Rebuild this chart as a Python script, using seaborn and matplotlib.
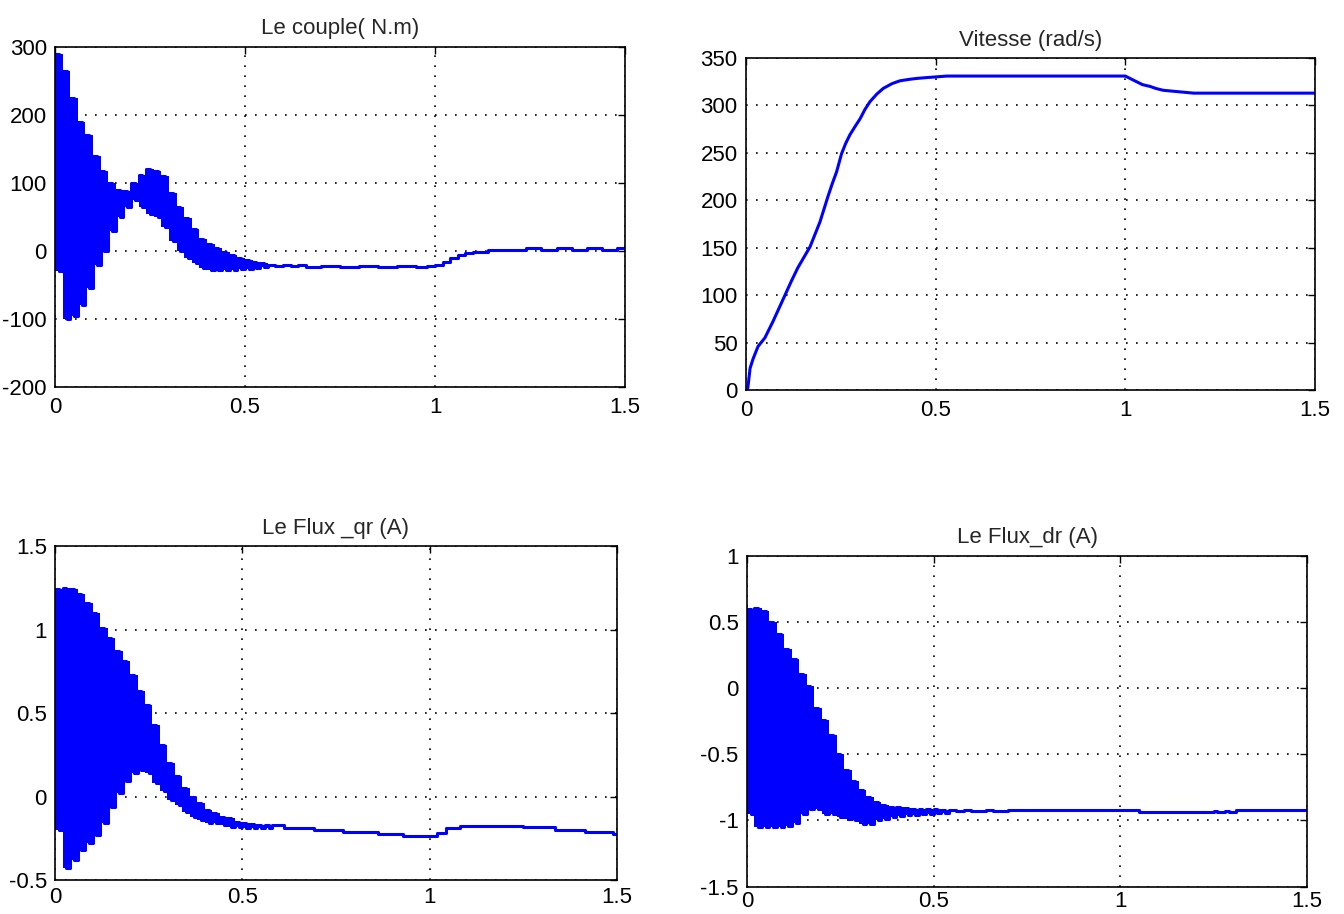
import numpy as np
import pandas as pd
import matplotlib
matplotlib.use("Agg")
import matplotlib.pyplot as plt
import seaborn as sns

# ---------------- data ----------------
PERIOD = 0.02  # one oscillation cycle of the transient (s)

# Torque (N.m): per-cycle maxima / minima of the start-up transient
couple_hi = [290, 265, 225, 190, 170, 140, 118, 100, 90, 88, 100, 112, 120, 118,
             110, 85, 65, 48, 32, 18, 10, 4, -2, -6, -10, -13, -16, -18]
couple_lo = [-30, -100, -95, -80, -55, -20, 0, 30, 50, 65, 75, 65, 55, 50,
             35, 15, 0, -10, -18, -25, -28, -28, -28, -28, -27, -27, -25, -24]
couple_tail_t = [0.56, 0.58, 0.60, 0.62, 0.64, 0.66, 0.70, 0.75, 0.80, 0.85, 0.90,
                 0.95, 0.98, 1.00, 1.02, 1.04, 1.06, 1.08, 1.10, 1.14, 1.20, 1.24,
                 1.28, 1.32, 1.36, 1.40, 1.44, 1.48, 1.50]
couple_tail_v = [-20, -22, -20, -22, -21, -23, -22, -23, -22, -24, -22,
                 -24, -22, -20, -16, -10, -6, -3, -1, 1, 2, 4,
                 2, 4, 2, 4, 2, 4, 3]

# Speed (rad/s)
vitesse_t = [0, 0.005, 0.011, 0.019, 0.032, 0.05, 0.071, 0.087, 0.103, 0.12, 0.137,
             0.153, 0.169, 0.182, 0.195, 0.206, 0.217, 0.228, 0.239, 0.252, 0.263,
             0.274, 0.288, 0.301, 0.314, 0.327, 0.345, 0.362, 0.385, 0.406, 0.43,
             0.45, 0.48, 0.53, 1.0, 1.02, 1.045, 1.066, 1.08, 1.1, 1.18, 1.5]
vitesse_v = [0, 2, 23, 33, 46, 55, 72, 86, 100, 115, 129,
             140, 151, 164, 177, 191, 205, 218, 230, 249, 260,
             269, 278, 286, 296, 304, 312, 318, 323, 326, 327.5,
             328.5, 329.5, 331, 331, 327, 322, 320, 318, 316, 313, 313]

# Rotor flux q-axis
fluxqr_hi = [1.24, 1.25, 1.24, 1.21, 1.16, 1.10, 1.01, 0.95, 0.87, 0.81, 0.73, 0.63,
             0.55, 0.43, 0.31, 0.20, 0.12, 0.05, 0.00, -0.04, -0.08, -0.10, -0.12,
             -0.13, -0.15, -0.16, -0.165, -0.17, -0.17]
fluxqr_lo = [-0.20, -0.43, -0.38, -0.32, -0.28, -0.23, -0.16, -0.06, 0.02, 0.09, 0.14,
             0.16, 0.14, 0.08, 0.03, -0.02, -0.05, -0.09, -0.12, -0.14, -0.16, -0.16,
             -0.17, -0.18, -0.18, -0.19, -0.19, -0.19, -0.19]
fluxqr_tail_t = [0.58, 0.61, 0.69, 0.77, 0.863, 0.93, 1.0, 1.02, 1.045, 1.081,
                 1.25, 1.335, 1.415, 1.49, 1.5]
fluxqr_tail_v = [-0.17, -0.19, -0.20, -0.215, -0.226, -0.236, -0.235, -0.22, -0.19,
                 -0.175, -0.185, -0.20, -0.21, -0.225, -0.225]

# Rotor flux d-axis
fluxdr_hi = [0.60, 0.61, 0.585, 0.50, 0.41, 0.30, 0.22, 0.11, 0.02, -0.15, -0.24,
             -0.35, -0.50, -0.62, -0.70, -0.77, -0.82, -0.86, -0.885, -0.895, -0.90,
             -0.905, -0.91, -0.91, -0.915, -0.915, -0.92]
fluxdr_lo = [-0.95, -1.05, -1.05, -1.05, -1.05, -1.04, -1.02, -0.95, -0.91, -0.91,
             -0.95, -0.95, -0.975, -0.99, -1.0, -1.025, -1.025, -1.0, -0.99, -0.975,
             -0.965, -0.96, -0.955, -0.95, -0.95, -0.945, -0.94]
fluxdr_tail_t = [0.54, 0.56, 0.58, 0.60, 0.64, 0.66, 0.70, 1.05, 1.25, 1.26, 1.28,
                 1.29, 1.31, 1.5]
fluxdr_tail_v = [-0.92, -0.93, -0.92, -0.925, -0.92, -0.93, -0.92, -0.935, -0.925,
                 -0.935, -0.925, -0.935, -0.92, -0.92]

titles = ["Le couple( N.m)", "Vitesse (rad/s)", "Le Flux _qr (A)", "Le Flux_dr (A)"]
xticks = [0, 0.5, 1, 1.5]
yticks_couple = [-200, -100, 0, 100, 200, 300]
yticks_vitesse = [0, 50, 100, 150, 200, 250, 300, 350]
yticks_qr = [-0.5, 0, 0.5, 1, 1.5]
yticks_dr = [-1.5, -1, -0.5, 0, 0.5, 1]

BLUE = "#0000ff"


def build(hi, lo, tail_t, tail_v):
    t, v = [], []
    for k, (h, l) in enumerate(zip(hi, lo)):
        t += [k * PERIOD, k * PERIOD + PERIOD / 2]
        v += [h, l]
    t += list(tail_t)
    v += list(tail_v)
    line = pd.DataFrame({"t": t, "v": v})
    tc = [k * PERIOD for k in range(len(hi))]
    band = pd.DataFrame({"t": tc + [len(hi) * PERIOD],
                         "hi": list(hi) + [hi[-1]],
                         "lo": list(lo) + [lo[-1]]})
    return line, band


df_couple, band_couple = build(couple_hi, couple_lo, couple_tail_t, couple_tail_v)
df_vitesse = pd.DataFrame({"t": vitesse_t, "v": vitesse_v})
df_qr, band_qr = build(fluxqr_hi, fluxqr_lo, fluxqr_tail_t, fluxqr_tail_v)
df_dr, band_dr = build(fluxdr_hi, fluxdr_lo, fluxdr_tail_t, fluxdr_tail_v)

# ---------------- styling ----------------
sns.set_style("white")
plt.rcParams["font.family"] = ["Liberation Sans", "DejaVu Sans"]
plt.rcParams["axes.unicode_minus"] = False

fig = plt.figure(figsize=(13.44, 9.14), dpi=100)
positions = [
    [0.041, 0.5766, 0.424, 0.372],
    [0.555, 0.5733, 0.4234, 0.3632],
    [0.041, 0.0372, 0.418, 0.3654],
    [0.5558, 0.0300, 0.4167, 0.3617],
]
xpads = [7, 7, 5, 3]
frames = [df_couple, df_vitesse, df_qr, df_dr]
bands = [band_couple, None, band_qr, band_dr]
styles = ["steps-post", "default", "steps-post", "steps-post"]
ylims = [(-200, 300), (0, 350), (-0.5, 1.5), (-1.5, 1)]
yticks = [yticks_couple, yticks_vitesse, yticks_qr, yticks_dr]

for pos, df, band, ds, title, yl, yt, xp in zip(positions, frames, bands, styles,
                                                 titles, ylims, yticks, xpads):
    ax = fig.add_axes(pos)
    if band is not None:
        ax.fill_between(band["t"], band["hi"], band["lo"], step="post",
                        color=BLUE, linewidth=0)
    sns.lineplot(data=df, x="t", y="v", ax=ax, color=BLUE, linewidth=2.2,
                 drawstyle=ds, sort=False, estimator=None)
    ax.set_xlim(0, 1.5)
    ax.set_ylim(*yl)
    ax.set_xticks(xticks)
    ax.set_yticks(yt)
    ax.set_xticklabels([f"{x:g}" for x in xticks])
    ax.set_yticklabels([f"{y:g}" for y in yt])
    ax.set_xlabel("")
    ax.set_ylabel("")
    ax.set_title(title, fontsize=16, pad=9)
    ax.grid(True, color="black", linestyle=(0, (1, 5)), linewidth=1.2)
    ax.set_axisbelow(True)
    ax.tick_params(direction="in", length=5, width=1, labelsize=16,
                   top=True, right=True, colors="black")
    ax.tick_params(axis="x", pad=xp)
    ax.tick_params(axis="y", pad=6)
    for s in ax.spines.values():
        s.set_color("black")
        s.set_linewidth(1.2)

fig.savefig("out.png", dpi=100, facecolor="white")
